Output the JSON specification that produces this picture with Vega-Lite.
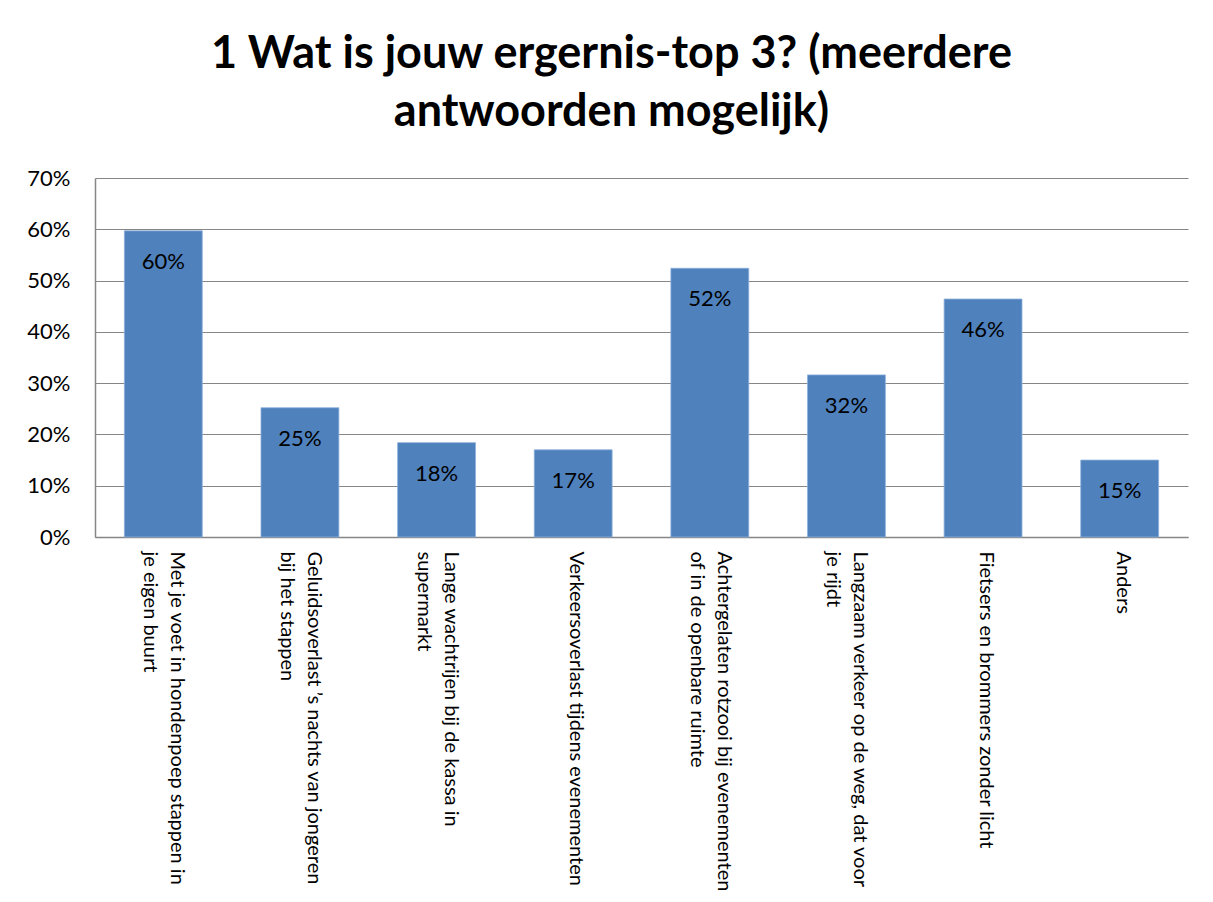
{
  "$schema": "https://vega.github.io/schema/vega-lite/v6.json",
  "autosize": "none",
  "padding": {"left": 95, "top": 178, "right": 25, "bottom": 365},
  "width": 1093,
  "height": 359,
  "background": "white",
  "title": {
    "text": ["1 Wat is jouw ergernis-top 3? (meerdere", "antwoorden mogelijk)"],
    "font": "Lato",
    "fontSize": 45,
    "fontWeight": "bold",
    "color": "#000000",
    "lineHeight": 58,
    "anchor": "middle",
    "frame": "group",
    "dx": -30,
    "offset": 32
  },
  "data": {
    "values": [
      {"cat": "Met je voet in hondenpoep stappen in|je eigen buurt", "v": 0.597},
      {"cat": "Geluidsoverlast ’s nachts van jongeren|bij het stappen", "v": 0.252},
      {"cat": "Lange wachtrijen bij de kassa in|supermarkt", "v": 0.184},
      {"cat": "Verkeersoverlast tijdens evenementen", "v": 0.17},
      {"cat": "Achtergelaten rotzooi bij evenementen|of in de openbare ruimte", "v": 0.524},
      {"cat": "Langzaam verkeer op de weg, dat voor|je rijdt", "v": 0.316},
      {"cat": "Fietsers en brommers zonder licht", "v": 0.464},
      {"cat": "Anders", "v": 0.15}
    ]
  },
  "encoding": {
    "x": {
      "field": "cat",
      "type": "nominal",
      "sort": null,
      "title": null,
      "scale": {"paddingInner": 0.43, "paddingOuter": 0.215},
      "axis": {
        "labelAngle": 90,
        "labelAlign": "left",
        "labelBaseline": "middle",
        "labelExpr": "split(datum.label, '|')",
        "labelFont": "Lato",
        "labelFontSize": 20,
        "labelColor": "#000000",
        "labelLineHeight": 27,
        "labelPadding": 14,
        "labelOffset": {"condition": {"test": "indexof(datum.value, '|') >= 0", "value": 14}, "value": 3},
        "labelLimit": 0,
        "ticks": false,
        "domainColor": "#868686",
        "domainWidth": 1.5,
        "grid": false
      }
    },
    "y": {
      "field": "v",
      "type": "quantitative",
      "title": null,
      "scale": {"domain": [0, 0.7], "nice": false},
      "axis": {
        "values": [0, 0.1, 0.2, 0.3, 0.4, 0.5, 0.6, 0.7],
        "format": ".0%",
        "labelFont": "Lato",
        "labelFontSize": 22,
        "labelColor": "#000000",
        "labelPadding": 25,
        "ticks": false,
        "domainColor": "#868686",
        "domainWidth": 1.5,
        "grid": true,
        "gridColor": "#868686",
        "gridWidth": 1.2
      }
    }
  },
  "layer": [
    {
      "mark": {"type": "bar", "color": "#4F81BD", "stroke": "#8DB0DA", "strokeWidth": 0.8}
    },
    {
      "mark": {"type": "text", "baseline": "alphabetic", "dy": 38, "font": "Lato", "fontSize": 22, "color": "#000000"},
      "encoding": {
        "text": {"field": "v", "type": "quantitative", "format": ".0%"}
      }
    }
  ],
  "config": {
    "view": {"stroke": null}
  }
}
